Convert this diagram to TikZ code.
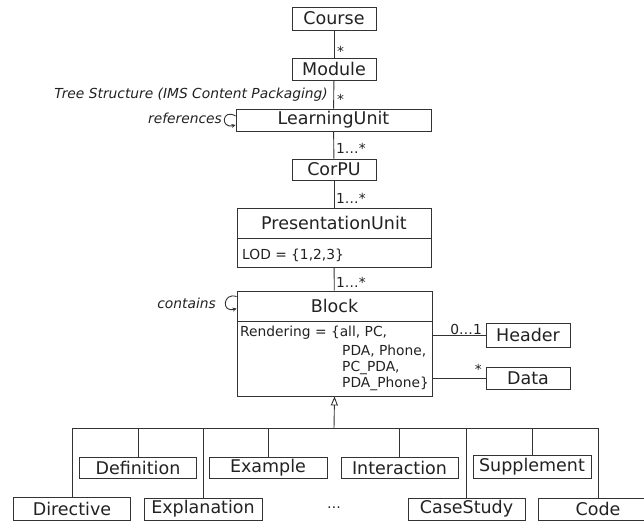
\documentclass[tikz,border=0pt]{standalone}
\usepackage{fontspec}
\setmainfont{DejaVu Sans}
\usetikzlibrary{arrows.meta}
\definecolor{lc}{HTML}{333333}
\definecolor{tc}{HTML}{222222}
\tikzset{
  box/.style={draw=lc, line width=0.9pt, inner sep=0pt, minimum height=22pt, text=tc, font=\fontsize{17.5}{20}\selectfont},
  frame/.style={draw=lc, line width=0.9pt, inner sep=0pt},
  title/.style={inner sep=0pt, text=tc, font=\fontsize{17.5}{20}\selectfont},
  attr/.style={inner sep=0pt, anchor=west, text=tc, font=\fontsize{13.8}{16}\selectfont},
  mult/.style={inner sep=0pt, text=tc, font=\fontsize{13.8}{16}\selectfont},
  note/.style={inner sep=0pt, anchor=east, text=tc, font=\fontsize{13.8}{16}\selectfont\itshape},
  conn/.style={draw=lc, line width=0.9pt},
  loopc/.style={draw=lc, line width=0.9pt, -{Stealth[length=4pt,width=4pt]}},
  gen/.style={draw=lc, line width=0.9pt, -{Triangle[open,length=9pt,width=7pt]}}
}
\begin{document}
\begin{tikzpicture}[x=1pt,y=-1pt]
\clip (0,0) rectangle (644,521);
\fill[white] (0,0) rectangle (644,521);

% main column
\node[box, minimum width=84pt, minimum height=23pt] (course) at (334,18.5) {Course};
\node[box, minimum width=84pt] (module) at (334,69) {Module};
\node[box, minimum width=195pt] (lu) at (333.5,120) {LearningUnit};
\node[box, minimum width=84pt, minimum height=21pt] (corpu) at (334,169.5) {CorPU};

% PresentationUnit
\node[frame, minimum width=194pt, minimum height=59pt] (pu) at (334,237.5) {};
\node[title] (putitle) at (334,223) {PresentationUnit};
\coordinate (puL) at (237,238);
\coordinate (puR) at (431,238);
\draw[conn] (puL) -- (puR);
\node[attr] (lod) at (242,255) {LOD = \{1,2,3\}};

% Block
\node[frame, minimum width=195pt, minimum height=105pt] (block) at (334.5,343.5) {};
\node[title] (blocktitle) at (334.5,306) {Block};
\coordinate (blL) at (237,321);
\coordinate (blR) at (432,321);
\draw[conn] (blL) -- (blR);
\node[attr] (r1) at (240,333) {Rendering = \{all, PC,};
\node[attr] (r2) at (342,351) {PDA, Phone,};
\node[attr] (r3) at (342,368) {PC\_PDA,};
\node[attr] (r4) at (342,384) {PDA\_Phone\}};

% Header / Data
\node[box, minimum width=84pt, minimum height=24pt] (header) at (528,335) {Header};
\node[box, minimum width=84pt] (data) at (528,378) {Data};

% connectors of main column
\draw[conn] (course) -- (module);
\draw[conn] (module) -- (lu);
\draw[conn] (lu) -- (corpu);
\draw[conn] (corpu) -- (pu);
\draw[conn] (pu) -- (block);
\draw[conn] (header.west -| block.east) -- (header.west);
\draw[conn] (data.west -| block.east) -- (data.west);

% multiplicities
\node[mult, anchor=west] (m1) at (337,51) {*};
\node[mult, anchor=west] (m2) at (337,99) {*};
\node[mult, anchor=west] (m3) at (336,148) {1…*};
\node[mult, anchor=west] (m4) at (336,198) {1…*};
\node[mult, anchor=west] (m5) at (336,282) {1…*};
\node[mult, anchor=east] (m6) at (482,329) {0…1};
\node[mult, anchor=east] (m7) at (482,369) {*};

% notes
\node[note] (tree) at (328,95) {Tree Structure (IMS Content Packaging)};
\node[note] (refs) at (222,118) {references};
\node[note] (cont) at (216,303) {contains};

% self loops
\draw[loopc] ([yshift=4pt]lu.west) .. controls (222,108) and (220,129) .. ([yshift=-5pt]lu.west);
\draw[loopc] ([yshift=-6pt]block.north west) .. controls (223,292) and (221,313) .. ([yshift=-18pt]block.north west);

% subclasses
\node[box, minimum width=117pt, minimum height=21pt] (definition) at (138,467.5) {Definition};
\node[box, minimum width=118pt, minimum height=21pt] (example) at (268,467.5) {Example};
\node[box, minimum width=117pt, minimum height=21pt] (interaction) at (399.5,467.5) {Interaction};
\node[box, minimum width=118pt, minimum height=23pt] (supplement) at (532,466.5) {Supplement};
\node[box, minimum width=117pt, minimum height=23pt] (directive) at (72,508.5) {Directive};
\node[box, minimum width=118pt] (explanation) at (203,509) {Explanation};
\node[box, minimum width=117pt] (casestudy) at (466.5,509) {CaseStudy};
\node[box, minimum width=120pt] (code) at (598,509) {Code};
\node[mult] (dots) at (334,508) {…};

% generalization
\coordinate (genpt) at (334,428);
\draw[gen] (genpt) -- (block.south);
\draw[conn] (genpt) -| (directive.north);
\draw[conn] (genpt) -| (definition.north);
\draw[conn] (genpt) -| (explanation.north);
\draw[conn] (genpt) -| (example.north);
\draw[conn] (genpt) -| (interaction.north);
\draw[conn] (genpt) -| (casestudy.north);
\draw[conn] (genpt) -| (supplement.north);
\draw[conn] (genpt) -| (code.north);
\end{tikzpicture}
\end{document}
